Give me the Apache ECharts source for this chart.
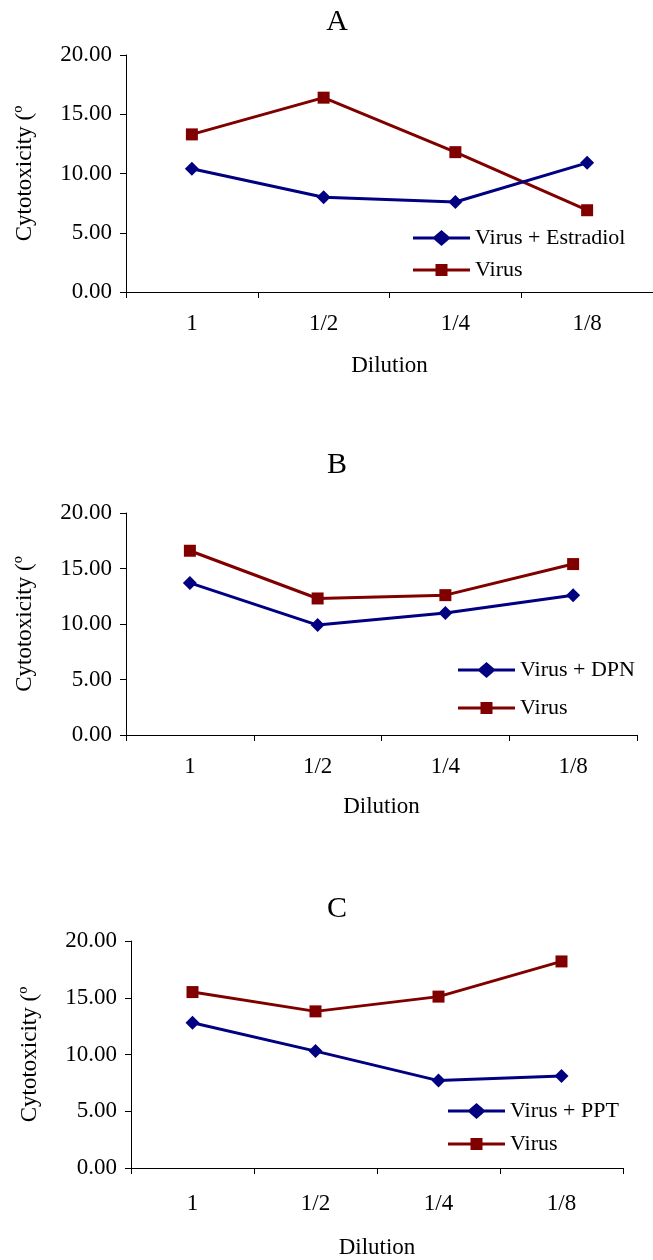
<!DOCTYPE html>
<html>
<head>
<meta charset="utf-8">
<script src="https://cdn.jsdelivr.net/npm/echarts@6/dist/echarts.min.js"></script>
<style>
  html, body { margin: 0; padding: 0; background: #fff; }
  #chart { width: 653px; height: 1260px; }
</style>
</head>
<body>
<div id="chart"></div>
<script>
// Dilution steps shared by all three panels
const dilutions = ['1', '1/2', '1/4', '1/8'];

// Panel A: estradiol
const estradiolTreated = [10.4, 8.0, 7.6, 10.9];
const virusA = [13.3, 16.4, 11.8, 6.9];

// Panel B: DPN
const dpnTreated = [13.7, 9.9, 11.0, 12.6];
const virusB = [16.6, 12.3, 12.6, 15.4];

// Panel C: PPT
const pptTreated = [12.8, 10.3, 7.7, 8.1];
const virusC = [15.5, 13.8, 15.1, 18.2];

const panelTitles = ['A', 'B', 'C'];
const treatedNames = ['Virus + Estradiol', 'Virus + DPN', 'Virus + PPT'];
const yTicks = { min: 0, max: 20, interval: 5 };

const FONT = '"Liberation Serif", "Times New Roman", serif';
const BLUE = '#000080';
const RED = '#800000';

// legend keys: a thick line segment with the marker in the middle
const ICON_DIAMOND = 'path://M0 6.5 L21 6.5 L28.5 0 L36 6.5 L57 6.5 L57 9.5 L36 9.5 L28.5 16 L21 9.5 L0 9.5 Z';
const ICON_SQUARE = 'path://M0 6.5 L22.5 6.5 L22.5 2 L34.5 2 L34.5 6.5 L57 6.5 L57 9.5 L34.5 9.5 L34.5 14 L22.5 14 L22.5 9.5 L0 9.5 Z';

// layout of each panel (pixels)
const panels = [
  { grid: { left: 126, top: 55, width: 534, height: 237 }, titleTop: 7, labelMargin: 20, nameGap: 62, legend: { left: 413, top: 227, gap: 10 }, treated: estradiolTreated, virus: virusA },
  { grid: { left: 126, top: 513, width: 511, height: 222 }, titleTop: 450, labelMargin: 20, nameGap: 60, legend: { left: 458, top: 659, gap: 16 }, treated: dpnTreated, virus: virusB },
  { grid: { left: 131, top: 941, width: 492, height: 227 }, titleTop: 894, labelMargin: 24, nameGap: 68, legend: { left: 448, top: 1100, gap: 11 }, treated: pptTreated, virus: virusC }
];

const option = {
  animation: false,
  backgroundColor: '#fff',
  textStyle: { fontFamily: FONT, color: '#000' },
  title: panels.map((p, i) => ({
    text: panelTitles[i],
    left: 337,
    top: p.titleTop,
    textAlign: 'center',
    padding: 0,
    textStyle: { fontFamily: FONT, fontWeight: 'normal', fontSize: 30, color: '#000' }
  })),
  legend: panels.map((p, i) => ({
    left: p.legend.left,
    top: p.legend.top,
    orient: 'vertical',
    itemGap: p.legend.gap,
    itemWidth: 57,
    itemHeight: 16,
    padding: 0,
    data: [
      { name: treatedNames[i], icon: ICON_DIAMOND },
      { name: 'Virus', icon: ICON_SQUARE }
    ],
    textStyle: { fontFamily: FONT, fontSize: 22, color: '#000', lineHeight: 22 },
    selectedMode: false
  })),
  grid: panels.map(p => Object.assign({}, p.grid)),
  xAxis: panels.map((p, i) => ({
    type: 'category',
    gridIndex: i,
    data: dilutions,
    boundaryGap: true,
    name: 'Dilution',
    nameLocation: 'middle',
    nameGap: p.nameGap,
    nameTextStyle: { fontFamily: FONT, fontSize: 23, color: '#000' },
    axisLine: { lineStyle: { color: '#000', width: 1 } },
    axisTick: { show: true, inside: false, length: 6, alignWithLabel: false, lineStyle: { color: '#000' } },
    axisLabel: { fontFamily: FONT, fontSize: 23, color: '#000', margin: p.labelMargin },
    splitLine: { show: false }
  })),
  yAxis: panels.map((p, i) => ({
    type: 'value',
    gridIndex: i,
    min: yTicks.min,
    max: yTicks.max,
    interval: yTicks.interval,
    name: 'Cytotoxicity (º',
    nameLocation: 'middle',
    nameRotate: 90,
    nameGap: 90,
    nameTextStyle: { fontFamily: FONT, fontSize: 23, color: '#000' },
    axisLine: { show: true, lineStyle: { color: '#000', width: 1 } },
    axisTick: { show: true, length: 6, lineStyle: { color: '#000' } },
    axisLabel: { fontFamily: FONT, fontSize: 23, color: '#000', margin: 14, formatter: v => v.toFixed(2) },
    splitLine: { show: false }
  })),
  series: panels.flatMap((p, i) => [
    {
      name: treatedNames[i],
      type: 'line',
      xAxisIndex: i,
      yAxisIndex: i,
      data: p.treated,
      symbol: 'diamond',
      symbolSize: 14,
      lineStyle: { color: BLUE, width: 3 },
      itemStyle: { color: BLUE },
      z: 3
    },
    {
      name: 'Virus',
      type: 'line',
      xAxisIndex: i,
      yAxisIndex: i,
      data: p.virus,
      symbol: 'rect',
      symbolSize: 12,
      lineStyle: { color: RED, width: 3 },
      itemStyle: { color: RED },
      z: 2
    }
  ])
};

const chart = echarts.init(document.getElementById('chart'), null, { renderer: 'canvas' });
chart.setOption(option);
</script>
</body>
</html>
